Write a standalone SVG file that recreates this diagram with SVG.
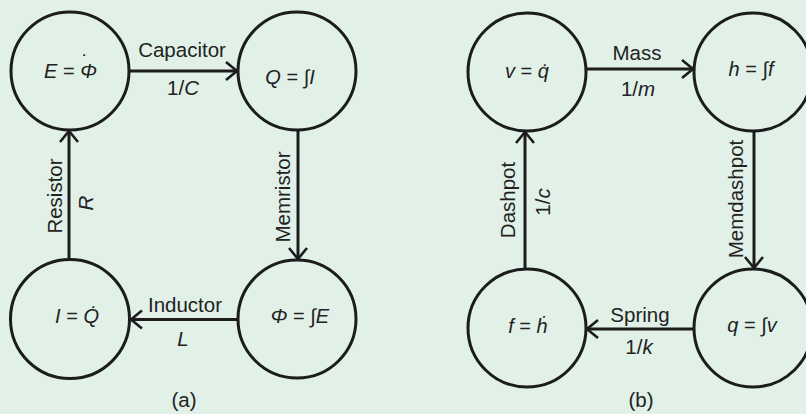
<svg xmlns="http://www.w3.org/2000/svg" width="806" height="414" viewBox="0 0 806 414">
<style>
.bg{fill:#e1f1e8}
.node{fill:none;stroke:#1c1c1c;stroke-width:3}
.edge{stroke:#1c1c1c;stroke-width:3;fill:none}
text{font-family:"Liberation Sans",Arial,sans-serif;font-size:20.5px;fill:#222;text-anchor:middle}
.m{font-size:20px}
.i{font-style:italic}
</style>
<defs>
<marker id="ah" markerUnits="userSpaceOnUse" markerWidth="30" markerHeight="30" refX="0" refY="0" viewBox="-15 -15 30 30" orient="auto" overflow="visible">
<path d="M-11,-9 L0,0 L-11,9" fill="none" stroke="#1c1c1c" stroke-width="2.6"/>
</marker>
</defs>
<rect class="bg" x="0" y="0" width="806" height="414"/>
<g id="connectors">
<line class="edge" x1="129" y1="71" x2="237" y2="71" marker-end="url(#ah)"/>
<line class="edge" x1="298" y1="130" x2="298" y2="259" marker-end="url(#ah)"/>
<line class="edge" x1="238" y1="319.5" x2="131" y2="319.5" marker-end="url(#ah)"/>
<line class="edge" x1="69" y1="260" x2="69" y2="131" marker-end="url(#ah)"/>
<line class="edge" x1="586" y1="69" x2="693" y2="69" marker-end="url(#ah)"/>
<line class="edge" x1="754" y1="131" x2="754" y2="268" marker-end="url(#ah)"/>
<line class="edge" x1="694" y1="329" x2="587" y2="329" marker-end="url(#ah)"/>
<line class="edge" x1="525" y1="269" x2="525" y2="132" marker-end="url(#ah)"/>
<text x="182" y="57">Capacitor</text>
<text x="183" y="95">1/<tspan class="i">C</tspan></text>
<text x="185" y="312">Inductor</text>
<text x="183" y="346" class="i">L</text>
<text transform="translate(62,196) rotate(-90)">Resistor</text>
<text transform="translate(93,203) rotate(-90)" class="i">R</text>
<text transform="translate(290,197) rotate(-90)">Memristor</text>
<text x="637" y="60">Mass</text>
<text x="638" y="96">1/<tspan class="i">m</tspan></text>
<text x="640" y="322">Spring</text>
<text x="639" y="354">1/<tspan class="i">k</tspan></text>
<text transform="translate(515,200) rotate(-90)">Dashpot</text>
<text transform="translate(550,202) rotate(-90)">1/<tspan class="i">c</tspan></text>
<text transform="translate(743,199) rotate(-90)">Memdashpot</text>
</g>
<g id="nE"><circle class="node" cx="70" cy="71" r="59"/><text class="m" x="44" y="78" style="text-anchor:start"><tspan class="i">E</tspan> = <tspan class="i">Φ</tspan><tspan x="81.7" y="69">˙</tspan></text></g>
<g id="nQ"><circle class="node" cx="297" cy="71" r="59"/><text class="m" x="290" y="84"><tspan class="i">Q</tspan> = <tspan class="i">∫I</tspan></text></g>
<g id="nI"><circle class="node" cx="70" cy="319" r="59.5"/><text class="m" x="77" y="323"><tspan class="i">I</tspan> = <tspan class="i">Q̇</tspan></text></g>
<g id="nPhi"><circle class="node" cx="297" cy="319" r="59"/><text class="m" x="300" y="323"><tspan class="i">Φ</tspan> = <tspan class="i">∫E</tspan></text></g>
<g id="nv"><circle class="node" cx="527" cy="72" r="59"/><text class="m" x="527" y="78"><tspan class="i">v</tspan> = <tspan class="i">q̇</tspan></text></g>
<g id="nh"><circle class="node" cx="753" cy="72" r="59"/><text class="m" x="751" y="76"><tspan class="i">h</tspan> = <tspan class="i">∫f</tspan></text></g>
<g id="nf"><circle class="node" cx="527" cy="328" r="59"/><text class="m" x="528" y="333"><tspan class="i">f</tspan> = <tspan class="i">ḣ</tspan></text></g>
<g id="nq"><circle class="node" cx="753" cy="328" r="59"/><text class="m" x="752" y="332"><tspan class="i">q</tspan> = <tspan class="i">∫v</tspan></text></g>
<text x="184" y="407">(a)</text>
<text x="641" y="407">(b)</text>
</svg>
